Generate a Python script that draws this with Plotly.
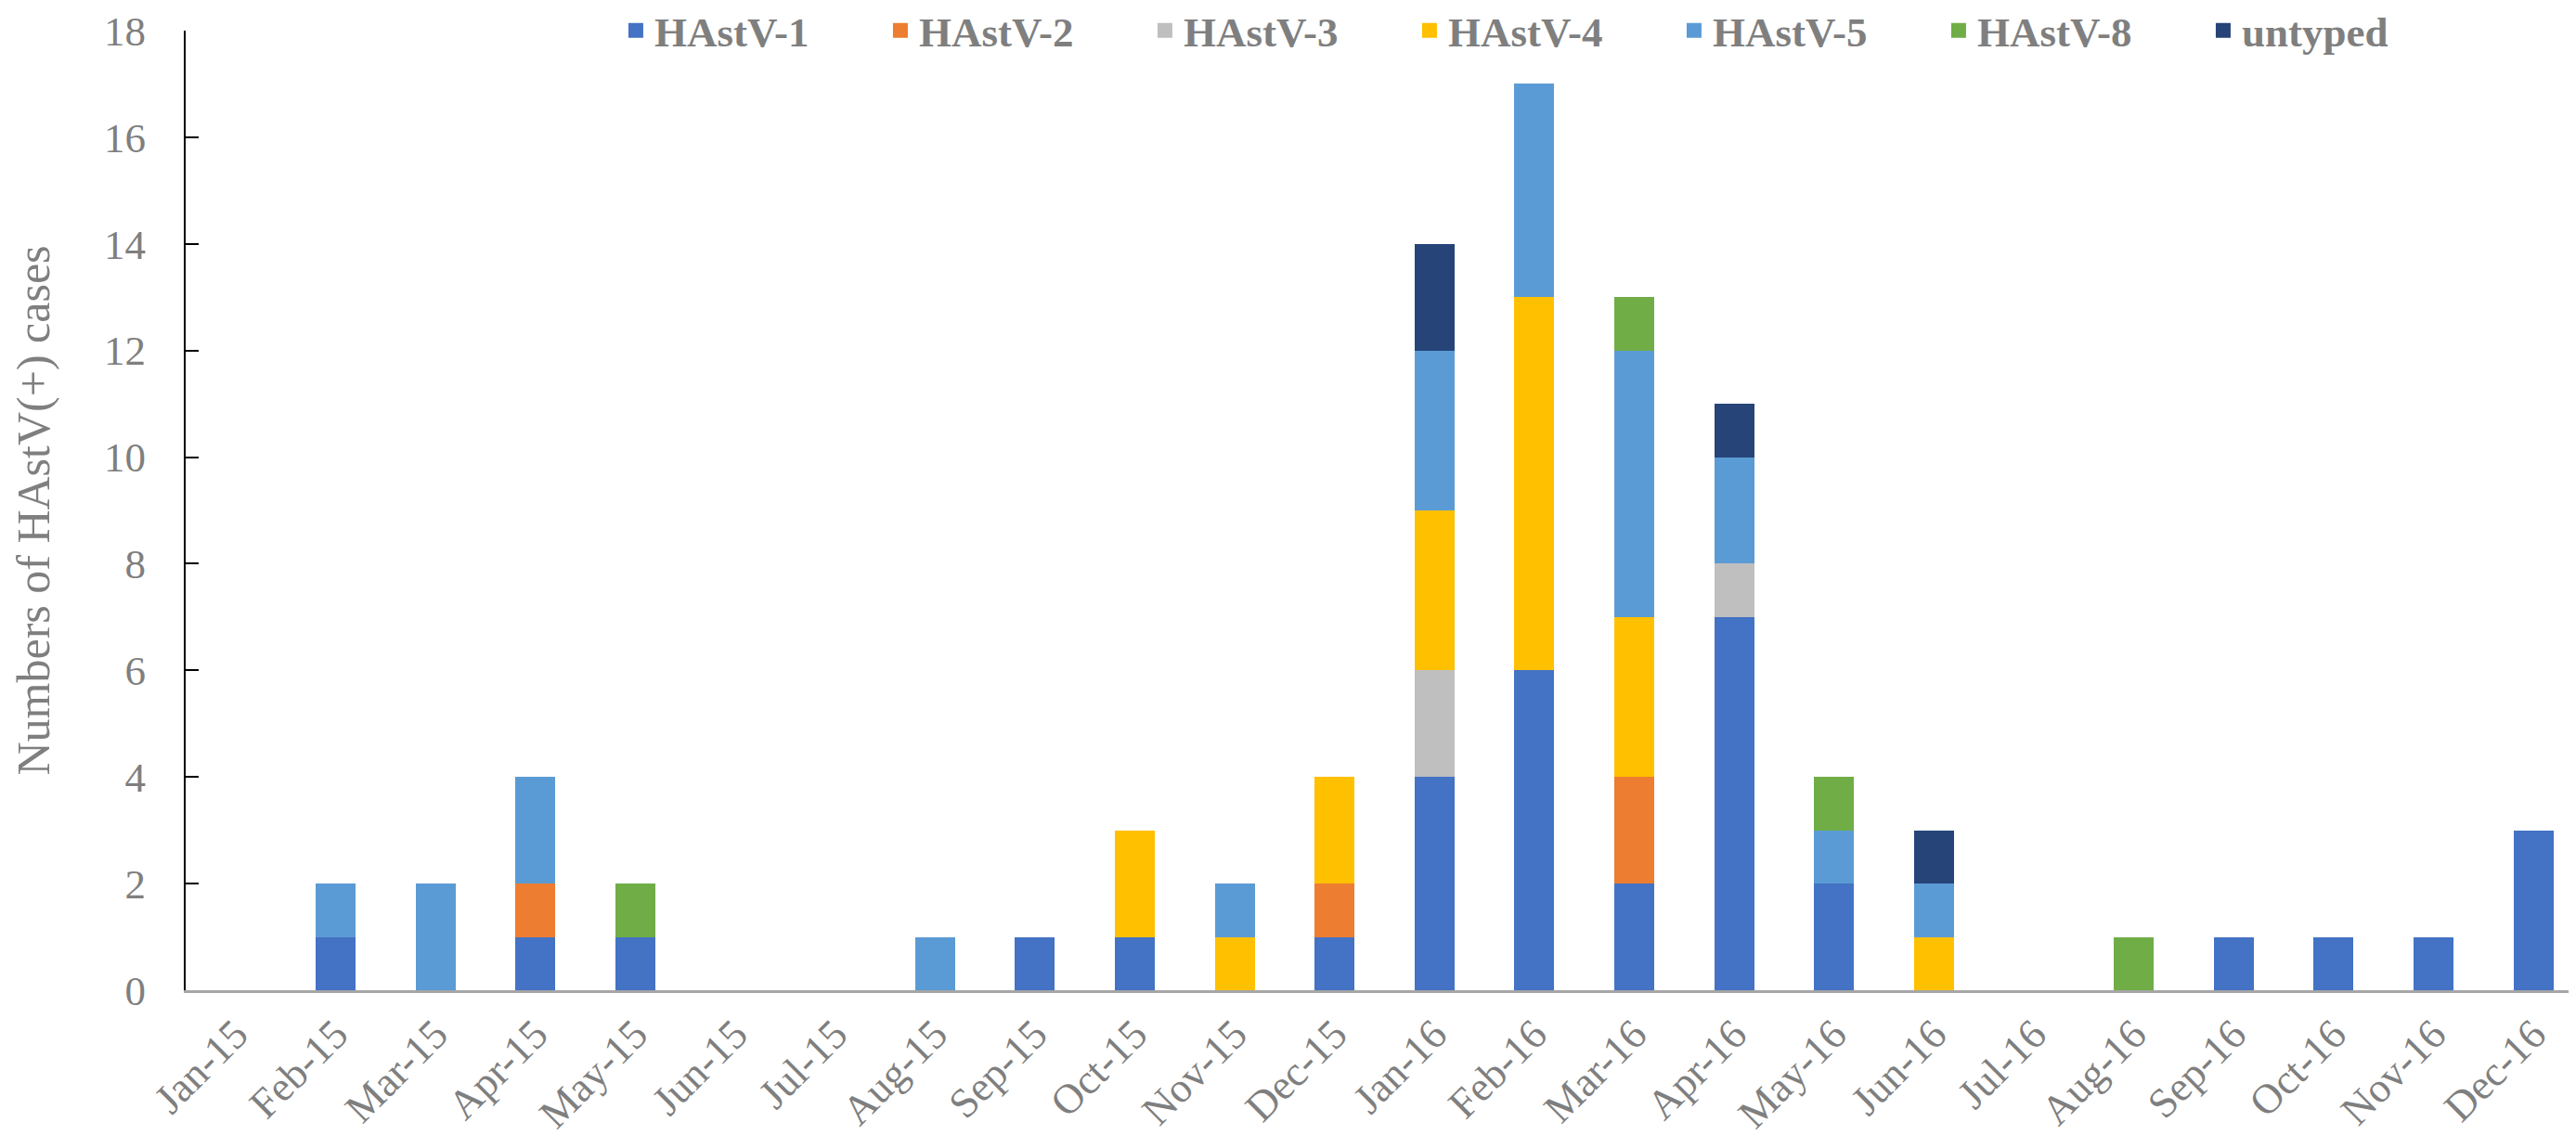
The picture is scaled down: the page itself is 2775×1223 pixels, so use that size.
import plotly.graph_objects as go

months = ['Jan-15', 'Feb-15', 'Mar-15', 'Apr-15', 'May-15', 'Jun-15', 'Jul-15', 'Aug-15',
          'Sep-15', 'Oct-15', 'Nov-15', 'Dec-15', 'Jan-16', 'Feb-16', 'Mar-16', 'Apr-16',
          'May-16', 'Jun-16', 'Jul-16', 'Aug-16', 'Sep-16', 'Oct-16', 'Nov-16', 'Dec-16']

hastv1 = [0, 1, 0, 1, 1, 0, 0, 0, 1, 1, 0, 1, 4, 6, 2, 7, 2, 0, 0, 0, 1, 1, 1, 3]
hastv2 = [0, 0, 0, 1, 0, 0, 0, 0, 0, 0, 0, 1, 0, 0, 2, 0, 0, 0, 0, 0, 0, 0, 0, 0]
hastv3 = [0, 0, 0, 0, 0, 0, 0, 0, 0, 0, 0, 0, 2, 0, 0, 1, 0, 0, 0, 0, 0, 0, 0, 0]
hastv4 = [0, 0, 0, 0, 0, 0, 0, 0, 0, 2, 1, 2, 3, 7, 3, 0, 0, 1, 0, 0, 0, 0, 0, 0]
hastv5 = [0, 1, 2, 2, 0, 0, 0, 1, 0, 0, 1, 0, 3, 4, 5, 2, 1, 1, 0, 0, 0, 0, 0, 0]
hastv8 = [0, 0, 0, 0, 1, 0, 0, 0, 0, 0, 0, 0, 0, 0, 1, 0, 1, 0, 0, 1, 0, 0, 0, 0]
untyped = [0, 0, 0, 0, 0, 0, 0, 0, 0, 0, 0, 0, 2, 0, 0, 1, 0, 1, 0, 0, 0, 0, 0, 0]

series = [
    ('HAstV-1', hastv1, '#4472C4'),
    ('HAstV-2', hastv2, '#ED7D31'),
    ('HAstV-3', hastv3, '#BFBFBF'),
    ('HAstV-4', hastv4, '#FFC000'),
    ('HAstV-5', hastv5, '#5B9BD5'),
    ('HAstV-8', hastv8, '#70AD47'),
    ('untyped', untyped, '#264478'),
]

GREY = '#7F7F7F'

fig = go.Figure()
for name, vals, color in series:
    fig.add_trace(go.Bar(x=months, y=vals, name=name, marker_color=color,
                         marker_line_width=0, showlegend=False))
# legend proxies (bigger square swatches than plotly's default bar symbol)
for name, vals, color in series:
    fig.add_trace(go.Scatter(x=[None], y=[None], mode='markers', name='<b>' + name + '</b>',
                             marker=dict(symbol='square', size=23, color=color)))

fig.update_layout(
    width=2775, height=1223,
    barmode='stack', bargap=0.6,
    plot_bgcolor='white', paper_bgcolor='white',
    margin=dict(l=192, r=0, t=25, b=164, autoexpand=False),
    font=dict(family='Liberation Serif', color=GREY),
    legend=dict(orientation='h', x=0.18, y=1.0, xanchor='left', yanchor='middle',
                traceorder='normal',
                font=dict(size=45, color=GREY, family='Liberation Serif'),
                itemwidth=30, entrywidth=240, entrywidthmode='pixels',
                bgcolor='rgba(0,0,0,0)'),
)
fig.update_xaxes(showline=True, linecolor='#A6A6A6', linewidth=3, ticks='',
                 tickangle=-45, tickfont=dict(size=45, color=GREY),
                 showgrid=False)
fig.update_yaxes(range=[0, 18], dtick=2, showline=True, linecolor='black', linewidth=2,
                 ticks='inside', ticklen=14, tickwidth=2, tickcolor='black',
                 ticklabelstandoff=32, ticklabeloverflow='allow',
                 tickfont=dict(size=45, color=GREY), showgrid=False, zeroline=False,
                 title=dict(text='Numbers of HAstV(+) cases', font=dict(size=50, color=GREY),
                            standoff=58))

fig.write_html("out.html")
